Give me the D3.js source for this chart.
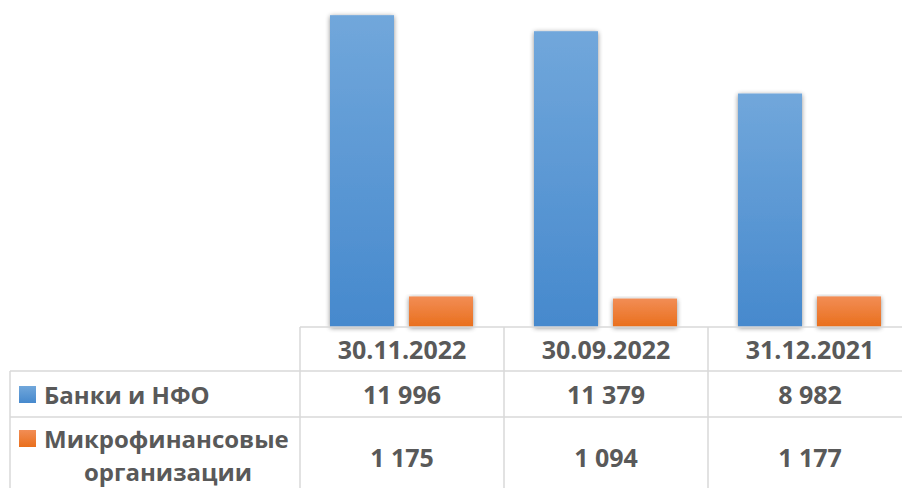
<!DOCTYPE html>
<html>
<head>
<meta charset="utf-8">
<script src="https://cdn.jsdelivr.net/npm/d3@7"></script>
<style>
  body { margin: 0; background: #fff; }
  text { font-family: "Open Sans", sans-serif; font-weight: bold; fill: #595959; }
</style>
</head>
<body>
<div id="chart"></div>
<script>
const categories = ["30.11.2022", "30.09.2022", "31.12.2021"];
const seriesNames = ["Банки и НФО", "Микрофинансовые организации"];
const banks = [11996, 11379, 8982];
const mfo = [1175, 1094, 1177];
const valueLabels = [["11 996", "11 379", "8 982"], ["1 175", "1 094", "1 177"]];

const width = 902;
const height = 488;
const baseY = 327;

const svg = d3.select("#chart")
    .append("svg")
    .attr("width", width)
    .attr("height", height);

const defs = svg.append("defs");
defs.html('<filter id="shadow" x="-30%" y="-10%" width="160%" height="130%"><feGaussianBlur in="SourceAlpha" stdDeviation="2.5"/><feOffset dx="0" dy="1" result="b"/><feComponentTransfer><feFuncA type="linear" slope="0.45"/></feComponentTransfer><feMerge><feMergeNode/><feMergeNode in="SourceGraphic"/></feMerge></filter>');

const grads = [["grad_0", "#71a7db", "#4689cd"], ["grad_1", "#f28d55", "#e96f1c"]];
grads.forEach(g => {
    const lg = defs.append("linearGradient")
        .attr("id", g[0])
        .attr("x1", "0%").attr("x2", "0%")
        .attr("y1", "0%").attr("y2", "100%");
    lg.append("stop").attr("offset", "0%").attr("stop-color", g[1]);
    lg.append("stop").attr("offset", "100%").attr("stop-color", g[2]);
});

const x = d3.scaleBand()
    .domain(categories)
    .range([300, 912]);

const xInner = d3.scaleBand()
    .domain(seriesNames)
    .range([30, 173])
    .paddingInner(0.19);

const y = d3.scaleLinear()
    .domain([0, 12580])
    .range([baseY, 0]);

const rows = [banks, mfo];

rows.forEach((vals, si) => {
    svg.append("g")
        .selectAll("rect")
        .data(vals)
        .enter()
        .append("rect")
        .attr("x", (d, i) => x(categories[i]) + xInner(seriesNames[si]))
        .attr("y", d => y(d))
        .attr("width", xInner.bandwidth())
        .attr("height", d => y(0) - y(d))
        .attr("fill", "url(#grad_" + si + ")")
        .style("filter", "url(#shadow)");
});

// data table
const rowTop = [327, 371, 417];
const rowBottom = 500;
const grid = svg.append("g")
    .attr("stroke", "#d9d9d9")
    .attr("stroke-width", 1.5)
    .attr("fill", "none");

grid.append("line").attr("x1", 300).attr("x2", 912).attr("y1", rowTop[0]).attr("y2", rowTop[0]);
grid.append("line").attr("x1", 10).attr("x2", 912).attr("y1", rowTop[1]).attr("y2", rowTop[1]);
grid.append("line").attr("x1", 10).attr("x2", 912).attr("y1", rowTop[2]).attr("y2", rowTop[2]);
grid.append("line").attr("x1", 10).attr("x2", 10).attr("y1", rowTop[1]).attr("y2", rowBottom);
categories.forEach(c => {
    grid.append("line").attr("x1", x(c)).attr("x2", x(c)).attr("y1", rowTop[0]).attr("y2", rowBottom);
});

svg.append("g")
    .selectAll("text")
    .data(categories)
    .enter()
    .append("text")
    .attr("x", d => x(d) + x.bandwidth() / 2)
    .attr("y", 349)
    .attr("text-anchor", "middle")
    .attr("dominant-baseline", "central")
    .attr("font-size", 25)
    .text(d => d);

const rowCenters = [394, 457];
valueLabels.forEach((labels, si) => {
    svg.append("g")
        .selectAll("text")
        .data(labels)
        .enter()
        .append("text")
        .attr("x", (d, i) => x(categories[i]) + x.bandwidth() / 2)
        .attr("y", rowCenters[si])
        .attr("text-anchor", "middle")
        .attr("dominant-baseline", "central")
        .attr("font-size", 25)
        .text(d => d);
});

// row legend labels
svg.append("rect").attr("x", 19).attr("y", 386).attr("width", 17).attr("height", 17).attr("fill", "url(#grad_0)");
svg.append("text").attr("x", 44).attr("y", 394).attr("dominant-baseline", "central")
    .attr("font-size", 24).text(seriesNames[0]);

svg.append("rect").attr("x", 19).attr("y", 430).attr("width", 17).attr("height", 17).attr("fill", "url(#grad_1)");
svg.append("text").attr("x", 44).attr("y", 438).attr("dominant-baseline", "central")
    .attr("font-size", 24).text("Микрофинансовые");
svg.append("text").attr("x", 168).attr("y", 471).attr("text-anchor", "middle").attr("dominant-baseline", "central")
    .attr("font-size", 24).text("организации");
</script>
</body>
</html>
